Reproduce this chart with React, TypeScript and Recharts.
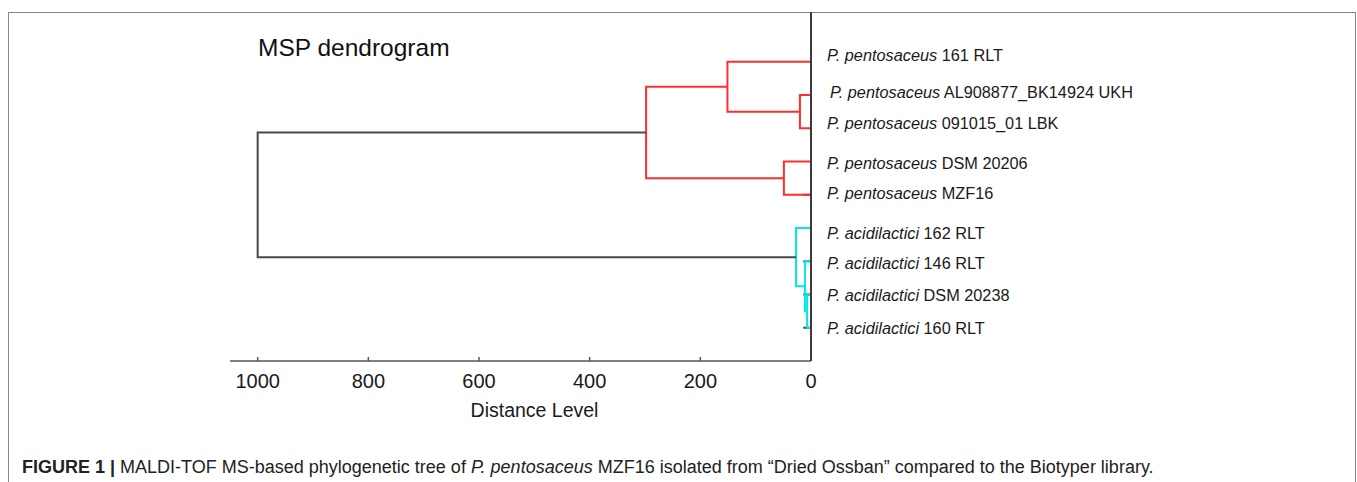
import React from "react";
import { ComposedChart, Line, XAxis, YAxis } from "recharts";

// leaves, top to bottom
const species = [
  "pentosaceus",
  "pentosaceus",
  "pentosaceus",
  "pentosaceus",
  "pentosaceus",
  "acidilactici",
  "acidilactici",
  "acidilactici",
  "acidilactici",
];
const strains = [
  "161 RLT",
  "AL908877_BK14924 UKH",
  "091015_01 LBK",
  "DSM 20206",
  "MZF16",
  "162 RLT",
  "146 RLT",
  "DSM 20238",
  "160 RLT",
];

// linkage table: node ids 0-8 are leaves, each merge creates node 9, 10, ...
const mergeA = [1, 0, 3, 10, 7, 6, 5, 12];
const mergeB = [2, 9, 4, 11, 8, 13, 14, 15];
const mergeDist = [20, 151, 49, 298, 7, 11, 27, 1000];

// leaves that carry a short dark stub at the axis
const darkStubs = [4, 6, 7, 8];

const distanceTicks = [0, 200, 400, 600, 800, 1000];

// the labels in the original are not exactly level with their branches
const labelNudge = [-7, -3, -5, 1, -2, 5, 2, 0, 0];

const FONT = "'Liberation Sans', Arial, sans-serif";
const RED = "#ff2e2e";
const CYAN = "#00e6ef";
const DARK = "#4a4a4a";

type Node = { pos: number; height: number; members: string[] };

const buildLinks = () => {
  const nodes: Node[] = species.map((s, i) => ({ pos: i, height: 0, members: [s] }));
  const links: { points: { x: number; y: number }[]; color: string }[] = [];
  mergeA.forEach((a, i) => {
    const A = nodes[a];
    const B = nodes[mergeB[i]];
    const h = mergeDist[i];
    const members = [...A.members, ...B.members];
    const uniq = Array.from(new Set(members));
    const color =
      uniq.length > 1 ? DARK : uniq[0] === "pentosaceus" ? RED : CYAN;
    links.push({
      color,
      points: [
        { x: A.height, y: A.pos },
        { x: h, y: A.pos },
        { x: h, y: B.pos },
        { x: B.height, y: B.pos },
      ],
    });
    nodes.push({ pos: (A.pos + B.pos) / 2, height: h, members });
  });
  return links;
};

const links = buildLinks();

const LeafTick = (props: any) => {
  const { x, y, payload } = props;
  const i = payload.value;
  return (
    <text
      x={i === 1 ? x + 3 : x}
      y={y}
      dy={labelNudge[i]}
      dominantBaseline="central"
      fontSize={16.3}
      fontFamily={FONT}
      fill="#1a1a1a"
    >
      <tspan fontStyle="italic">P. {species[i]}</tspan>
      <tspan> {strains[i]}</tspan>
    </text>
  );
};

export default function App() {
  return (
    <div
      style={{
        position: "fixed",
        left: 0,
        top: 0,
        width: 1357,
        height: 482,
        overflow: "hidden",
        background: "#fff",
      }}
    >
      <div
        style={{
          position: "absolute",
          left: 8,
          top: 12,
          width: 1348,
          height: 490,
          border: "1.5px solid #858585",
          boxSizing: "border-box",
        }}
      />
      <div
        style={{
          position: "absolute",
          left: 258,
          top: 32,
          fontFamily: FONT,
          fontSize: 24.5,
          color: "#111",
          lineHeight: "32px",
        }}
      >
        MSP dendrogram
      </div>
      <div style={{ position: "absolute", left: 0, top: 0 }}>
        <ComposedChart
          width={1357}
          height={482}
          margin={{ top: 12, right: 216, bottom: 61, left: 230 }}
        >
          <XAxis
            type="number"
            dataKey="x"
            domain={[0, 1050]}
            reversed
            allowDataOverflow
            ticks={distanceTicks}
            interval={0}
            height={60}
            tickSize={-4}
            tickMargin={17}
            axisLine={{ stroke: "#555", strokeWidth: 1.5 }}
            tickLine={{ stroke: "#555", strokeWidth: 1.5 }}
            tick={{ fontSize: 20, fontFamily: FONT, fill: "#1a1a1a" }}
            label={{
              value: "Distance Level",
              position: "insideBottom",
              offset: 4,
              dx: 14,
              fontSize: 19.5,
              fontFamily: FONT,
              fill: "#1a1a1a",
            }}
          />
          <YAxis
            type="number"
            orientation="right"
            domain={[-1.5, 9]}
            reversed
            allowDataOverflow
            ticks={[0, 1, 2, 3, 4, 5, 6, 7, 8]}
            interval={0}
            width={330}
            tickLine={false}
            tickSize={6}
            tickMargin={10}
            axisLine={{ stroke: "#3a3a3a", strokeWidth: 2 }}
            tick={<LeafTick />}
          />
          {darkStubs.map((leaf) => (
            <Line
              key={`stub-${leaf}`}
              data={[
                { x: 14, y: leaf },
                { x: 0, y: leaf },
              ]}
              dataKey="y"
              stroke={DARK}
              strokeWidth={2}
              dot={false}
              isAnimationActive={false}
            />
          ))}
          {links.map((l, i) => (
            <Line
              key={`link-${i}`}
              data={l.points}
              dataKey="y"
              type="linear"
              stroke={l.color}
              strokeWidth={2}
              dot={false}
              isAnimationActive={false}
            />
          ))}
        </ComposedChart>
      </div>
      <div
        style={{
          position: "absolute",
          left: 22,
          top: 456,
          fontFamily: FONT,
          fontSize: 18,
          color: "#222",
          whiteSpace: "nowrap",
          lineHeight: "22px",
        }}
      >
        <b>FIGURE 1 |</b> MALDI-TOF MS-based phylogenetic tree of{" "}
        <i>P. pentosaceus</i> MZF16 isolated from “Dried Ossban” compared to
        the Biotyper library.
      </div>
    </div>
  );
}
